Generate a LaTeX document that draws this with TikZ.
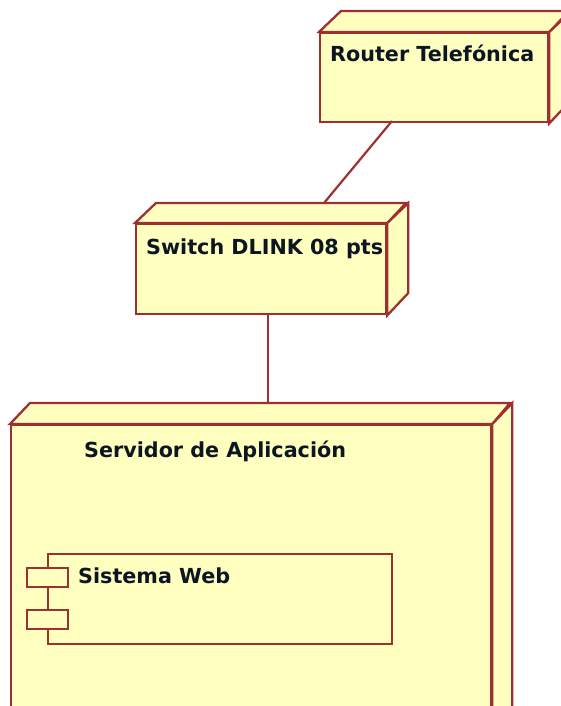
\documentclass[tikz,border=0pt]{standalone}
\usepackage{fontspec}
\setmainfont{DejaVu Sans}
\usetikzlibrary{calc}
\definecolor{edge}{RGB}{160,48,48}
\definecolor{nodefill}{RGB}{255,255,192}
\definecolor{ink}{RGB}{12,22,34}
\tikzset{
  face/.style={draw=edge, fill=nodefill, line width=2.3pt, line join=miter},
  front/.style={face, inner sep=0pt, anchor=north west},
  label/.style={inner sep=0pt, anchor=base west, text=ink, font=\bfseries\fontsize{20.7}{24}\selectfont},
  link/.style={draw=edge, line width=2.2pt},
  part/.style={draw=edge, fill=nodefill, line width=2.3pt, inner sep=0pt, anchor=north west}
}
\begin{document}
\begin{tikzpicture}[x=1pt,y=-1pt]
\useasboundingbox (0,0) rectangle (561,706);
\clip (0,0) rectangle (561,706);
\fill[white] (0,0) rectangle (561,706);

% Router Telefonica
\node[front, minimum width=228pt, minimum height=89pt] (router) at (319,32) {};
\filldraw[face] (router.north west) -- ++(22,-21) -- ++(228,0) -- ($(router.north east)$) -- cycle;
\filldraw[face] (router.north east) -- ++(22,-21) -- ++(0,89) -- (router.south east) -- cycle;
\node[label] (routertxt) at (330,62) {Router Telefónica};

% Switch
\node[front, minimum width=250pt, minimum height=90pt] (switch) at (135,223) {};
\filldraw[face] (switch.north west) -- ++(21,-20) -- ++(250,0) -- (switch.north east) -- cycle;
\filldraw[face] (switch.north east) -- ++(21,-20) -- ++(0,90) -- (switch.south east) -- cycle;
\node[label] (switchtxt) at (146,254) {Switch DLINK 08 pts};

% Servidor
\node[front, minimum width=480pt, minimum height=360pt] (server) at (10,424) {};
\filldraw[face] (server.north west) -- ++(20,-21) -- ++(480,0) -- (server.north east) -- cycle;
\filldraw[face] (server.north east) -- ++(20,-21) -- ++(0,360) -- (server.south east) -- cycle;
\node[label] (servertxt) at (84,457) {Servidor de Aplicación};

% Component Sistema Web
\node[part, minimum width=344pt, minimum height=90pt] (comp) at (47,553) {};
\node[part, minimum width=41pt, minimum height=19pt] (tab1) at (26,567) {};
\node[part, minimum width=41pt, minimum height=19pt] (tab2) at (26,609) {};
\node[label] (comptxt) at (78,583) {Sistema Web};

% Connectors
\coordinate (c1) at (392,121);
\coordinate (c2) at (324,203);
\draw[link] (c1) -- (c2);
\coordinate (c3) at (268,313);
\coordinate (c4) at (268,403);
\draw[link] (c3) -- (c4);
\end{tikzpicture}
\end{document}
